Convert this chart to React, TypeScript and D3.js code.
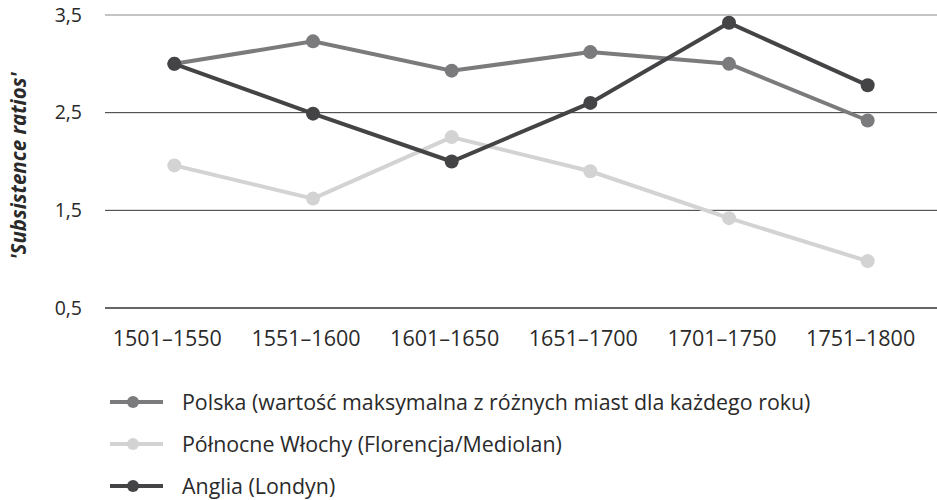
import * as d3 from "d3";
import React, { useEffect, useRef } from "react";

// Okresy (oś X)
const periods = ["1501–1550", "1551–1600", "1601–1650", "1651–1700", "1701–1750", "1751–1800"];

// Wartości serii
const polska = [3.0, 3.23, 2.93, 3.12, 3.0, 2.42];
const wlochy = [1.96, 1.62, 2.25, 1.9, 1.42, 0.98];
const anglia = [3.0, 2.49, 2.0, 2.6, 3.42, 2.78];

const seriesNames = [
  "Polska (wartość maksymalna z różnych miast dla każdego roku)",
  "Północne Włochy (Florencja/Mediolan)",
  "Anglia (Londyn)",
];
const seriesColors = ["#7b7b7d", "#d3d3d4", "#444446"];

const yTicks = [0.5, 1.5, 2.5, 3.5];

const FONT = "'Open Sans', sans-serif";

export default function App() {
  const ref = useRef<SVGSVGElement>(null);

  useEffect(() => {
    const width = 937;
    const height = 500;
    const svg = d3.select(ref.current);
    svg.selectAll("*").remove();

    const margin = { top: 15, right: 0, bottom: 192, left: 105 };

    const x = d3.scalePoint<string>().domain(periods).range([margin.left, width - margin.right]).padding(0.5);
    const y = d3.scaleLinear().domain([0.5, 3.5]).range([height - margin.bottom, margin.top]);

    // Linie siatki
    svg
      .append("g")
      .selectAll("line")
      .data(yTicks)
      .join("line")
      .attr("x1", margin.left)
      .attr("x2", width)
      .attr("y1", (d) => y(d))
      .attr("y2", (d) => y(d))
      .attr("stroke", (d) => (d === 3.5 ? "#8a8a8a" : "#333"))
      .attr("stroke-width", (d) => (d === 0.5 ? 1.6 : 1));

    // Etykiety osi Y (przecinek dziesiętny)
    svg
      .append("g")
      .attr("font-family", FONT)
      .attr("font-size", 19.5)
      .attr("fill", "#2a2a2a")
      .attr("text-anchor", "end")
      .selectAll("text")
      .data(yTicks)
      .join("text")
      .attr("x", 82)
      .attr("y", (d) => y(d))
      .attr("dy", "0.35em")
      .text((d) => d3.format(".1f")(d).replace(".", ","));

    // Etykiety osi X (lekko przesunięte w lewo względem punktów)
    svg
      .append("g")
      .attr("font-family", FONT)
      .attr("font-size", 21.5)
      .attr("fill", "#2a2a2a")
      .attr("text-anchor", "middle")
      .selectAll("text")
      .data(periods)
      .join("text")
      .attr("x", (d) => x(d)! - 7)
      .attr("y", 338)
      .attr("dy", "0.35em")
      .text((d) => d);

    // Tytuł osi Y
    svg
      .append("text")
      .attr("transform", "translate(26,166) rotate(-90)")
      .attr("text-anchor", "middle")
      .attr("font-family", FONT)
      .attr("font-size", 20.5)
      .attr("font-weight", "bold")
      .attr("font-style", "italic")
      .attr("fill", "#2a2a2a")
      .text("'Subsistence ratios'");

    const allSeries = [polska, wlochy, anglia];
    const line = d3
      .line<number>()
      .x((_, i) => x(periods[i])!)
      .y((d) => y(d));

    allSeries.forEach((values, s) => {
      const g = svg.append("g");
      g.append("path")
        .attr("d", line(values))
        .attr("fill", "none")
        .attr("stroke", seriesColors[s])
        .attr("stroke-width", 4);
      g.selectAll("circle")
        .data(values)
        .join("circle")
        .attr("cx", (_, i) => x(periods[i])!)
        .attr("cy", (d) => y(d))
        .attr("r", 7)
        .attr("fill", seriesColors[s]);
    });

    // Legenda
    const legend = svg
      .append("g")
      .selectAll("g")
      .data(seriesNames)
      .join("g")
      .attr("transform", (_, i) => `translate(110,${402 + i * 42})`);
    legend
      .append("line")
      .attr("x1", 0)
      .attr("x2", 53)
      .attr("stroke", (_, i) => seriesColors[i])
      .attr("stroke-width", 4);
    legend
      .append("circle")
      .attr("cx", 23)
      .attr("r", 6)
      .attr("fill", (_, i) => seriesColors[i]);
    legend
      .append("text")
      .attr("x", 72)
      .attr("dy", "0.35em")
      .attr("font-family", FONT)
      .attr("font-size", 21.4)
      .attr("fill", "#2a2a2a")
      .text((d) => d);
  }, []);

  return (
    <svg
      ref={ref}
      width={937}
      height={500}
      viewBox="0 0 937 500"
      style={{ position: "absolute", left: 0, top: 0, background: "#fff" }}
    />
  );
}
